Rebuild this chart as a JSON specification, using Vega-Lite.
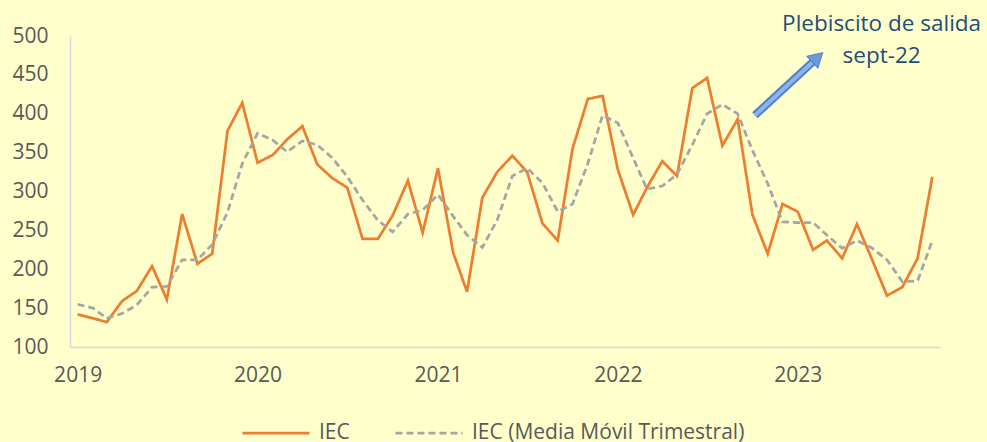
{
  "$schema": "https://vega.github.io/schema/vega-lite/v6.json",
  "width": 870,
  "height": 311,
  "autosize": {"type": "none"},
  "padding": {"left": 70, "top": 36, "right": 47, "bottom": 95},
  "background": "#FFFFCC",
  "config": {"view": {"stroke": null}, "font": "Open Sans", "axis": {"labelOverlap": false}, "axisY": {"labelOverlap": false}},
  "datasets": {
    "serie": [
      {"fecha": "2019-01-01", "IEC": 142, "IEC (Media Móvil Trimestral)": 155},
      {"fecha": "2019-02-01", "IEC": 137, "IEC (Media Móvil Trimestral)": 150},
      {"fecha": "2019-03-01", "IEC": 132, "IEC (Media Móvil Trimestral)": 137},
      {"fecha": "2019-04-01", "IEC": 159, "IEC (Media Móvil Trimestral)": 143},
      {"fecha": "2019-05-01", "IEC": 172, "IEC (Media Móvil Trimestral)": 154},
      {"fecha": "2019-06-01", "IEC": 204, "IEC (Media Móvil Trimestral)": 177},
      {"fecha": "2019-07-01", "IEC": 161, "IEC (Media Móvil Trimestral)": 178},
      {"fecha": "2019-08-01", "IEC": 271, "IEC (Media Móvil Trimestral)": 212},
      {"fecha": "2019-09-01", "IEC": 207, "IEC (Media Móvil Trimestral)": 212},
      {"fecha": "2019-10-01", "IEC": 220, "IEC (Media Móvil Trimestral)": 232},
      {"fecha": "2019-11-01", "IEC": 378, "IEC (Media Móvil Trimestral)": 273},
      {"fecha": "2019-12-01", "IEC": 414, "IEC (Media Móvil Trimestral)": 336},
      {"fecha": "2020-01-01", "IEC": 337, "IEC (Media Móvil Trimestral)": 375},
      {"fecha": "2020-02-01", "IEC": 347, "IEC (Media Móvil Trimestral)": 366},
      {"fecha": "2020-03-01", "IEC": 367, "IEC (Media Móvil Trimestral)": 351},
      {"fecha": "2020-04-01", "IEC": 384, "IEC (Media Móvil Trimestral)": 365},
      {"fecha": "2020-05-01", "IEC": 335, "IEC (Media Móvil Trimestral)": 360},
      {"fecha": "2020-06-01", "IEC": 317, "IEC (Media Móvil Trimestral)": 343},
      {"fecha": "2020-07-01", "IEC": 305, "IEC (Media Móvil Trimestral)": 319},
      {"fecha": "2020-08-01", "IEC": 239, "IEC (Media Móvil Trimestral)": 289},
      {"fecha": "2020-09-01", "IEC": 239, "IEC (Media Móvil Trimestral)": 263},
      {"fecha": "2020-10-01", "IEC": 269, "IEC (Media Móvil Trimestral)": 248},
      {"fecha": "2020-11-01", "IEC": 314, "IEC (Media Móvil Trimestral)": 271},
      {"fecha": "2020-12-01", "IEC": 247, "IEC (Media Móvil Trimestral)": 276},
      {"fecha": "2021-01-01", "IEC": 330, "IEC (Media Móvil Trimestral)": 296},
      {"fecha": "2021-02-01", "IEC": 221, "IEC (Media Móvil Trimestral)": 268},
      {"fecha": "2021-03-01", "IEC": 171, "IEC (Media Móvil Trimestral)": 244},
      {"fecha": "2021-04-01", "IEC": 292, "IEC (Media Móvil Trimestral)": 228},
      {"fecha": "2021-05-01", "IEC": 325, "IEC (Media Móvil Trimestral)": 263},
      {"fecha": "2021-06-01", "IEC": 346, "IEC (Media Móvil Trimestral)": 320},
      {"fecha": "2021-07-01", "IEC": 325, "IEC (Media Móvil Trimestral)": 330},
      {"fecha": "2021-08-01", "IEC": 259, "IEC (Media Móvil Trimestral)": 311},
      {"fecha": "2021-09-01", "IEC": 237, "IEC (Media Móvil Trimestral)": 274},
      {"fecha": "2021-10-01", "IEC": 355, "IEC (Media Móvil Trimestral)": 284},
      {"fecha": "2021-11-01", "IEC": 419, "IEC (Media Móvil Trimestral)": 336},
      {"fecha": "2021-12-01", "IEC": 423, "IEC (Media Móvil Trimestral)": 398},
      {"fecha": "2022-01-01", "IEC": 328, "IEC (Media Móvil Trimestral)": 388},
      {"fecha": "2022-02-01", "IEC": 270, "IEC (Media Móvil Trimestral)": 343},
      {"fecha": "2022-03-01", "IEC": 305, "IEC (Media Móvil Trimestral)": 303},
      {"fecha": "2022-04-01", "IEC": 339, "IEC (Media Móvil Trimestral)": 307},
      {"fecha": "2022-05-01", "IEC": 320, "IEC (Media Móvil Trimestral)": 322},
      {"fecha": "2022-06-01", "IEC": 433, "IEC (Media Móvil Trimestral)": 360},
      {"fecha": "2022-07-01", "IEC": 446, "IEC (Media Móvil Trimestral)": 400},
      {"fecha": "2022-08-01", "IEC": 359, "IEC (Media Móvil Trimestral)": 412},
      {"fecha": "2022-09-01", "IEC": 393, "IEC (Media Móvil Trimestral)": 400},
      {"fecha": "2022-10-01", "IEC": 270, "IEC (Media Móvil Trimestral)": 353},
      {"fecha": "2022-11-01", "IEC": 220, "IEC (Media Móvil Trimestral)": 310},
      {"fecha": "2022-12-01", "IEC": 284, "IEC (Media Móvil Trimestral)": 261},
      {"fecha": "2023-01-01", "IEC": 274, "IEC (Media Móvil Trimestral)": 260},
      {"fecha": "2023-02-01", "IEC": 225, "IEC (Media Móvil Trimestral)": 260},
      {"fecha": "2023-03-01", "IEC": 237, "IEC (Media Móvil Trimestral)": 244},
      {"fecha": "2023-04-01", "IEC": 214, "IEC (Media Móvil Trimestral)": 227},
      {"fecha": "2023-05-01", "IEC": 258, "IEC (Media Móvil Trimestral)": 237},
      {"fecha": "2023-06-01", "IEC": 212, "IEC (Media Móvil Trimestral)": 227},
      {"fecha": "2023-07-01", "IEC": 166, "IEC (Media Móvil Trimestral)": 212},
      {"fecha": "2023-08-01", "IEC": 177, "IEC (Media Móvil Trimestral)": 184},
      {"fecha": "2023-09-01", "IEC": 214, "IEC (Media Móvil Trimestral)": 185},
      {"fecha": "2023-10-01", "IEC": 319, "IEC (Media Móvil Trimestral)": 237}
    ],
    "flecha": [
      {"fecha": "2022-10-06", "valor": 398, "fecha2": "2023-02-01", "valor2": 467}
    ],
    "punta": [
      {"fecha": "2023-02-10", "valor": 472.5}
    ],
    "nota": [
      {"fecha": "2023-06-20", "valor": 507, "texto": "Plebiscito de salida"},
      {"fecha": "2023-06-20", "valor": 465, "texto": "sept-22"}
    ]
  },
  "layer": [
    {
      "data": {"name": "serie"},
      "transform": [{"fold": ["IEC", "IEC (Media Móvil Trimestral)"], "as": ["serie", "valor"]}],
      "mark": {"type": "line", "strokeWidth": 2.75},
      "encoding": {
        "x": {
          "field": "fecha", "type": "temporal", "title": null,
          "scale": {"type": "utc", "domain": [
            {"year": 2018, "month": 12, "date": 16, "hours": 12, "utc": true},
            {"year": 2023, "month": 10, "date": 16, "hours": 12, "utc": true}
          ]},
          "axis": {
            "values": [
              {"year": 2019, "month": 1, "date": 1, "utc": true},
              {"year": 2020, "month": 1, "date": 1, "utc": true},
              {"year": 2021, "month": 1, "date": 1, "utc": true},
              {"year": 2022, "month": 1, "date": 1, "utc": true},
              {"year": 2023, "month": 1, "date": 1, "utc": true}
            ],
            "format": "%Y", "grid": false, "ticks": false, "domain": true,
            "domainColor": "#D6D8E6", "domainWidth": 1.5, "labelOverlap": false,
            "labelFontSize": 21, "labelColor": "#595959", "labelPadding": 17,
            "labelFont": "Open Sans"
          }
        },
        "y": {
          "field": "valor", "type": "quantitative", "title": null,
          "scale": {"domain": [100, 500], "nice": false, "zero": false},
          "axis": {
            "tickCount": 8, "tickMinStep": 50,
            "grid": false, "ticks": false, "domain": true,
            "domainColor": "#D6D8E6", "domainWidth": 1.5, "labelOverlap": false,
            "labelFontSize": 21, "labelColor": "#595959", "labelPadding": 22,
            "labelFont": "Open Sans", "labelBound": false
          }
        },
        "color": {
          "field": "serie", "type": "nominal", "title": null,
          "scale": {"domain": ["IEC", "IEC (Media Móvil Trimestral)"], "range": ["#ED7D31", "#A5A5A5"]},
          "legend": {"title": null, "orient": "none", "legendX": 171, "legendY": 362, "direction": "horizontal",
            "symbolType": "stroke", "symbolSize": 4500, "symbolStrokeWidth": 2.75,
            "labelFontSize": 21, "labelColor": "#595959", "labelOffset": 8, "columnPadding": 39,
            "padding": 0, "labelFont": "Open Sans", "labelLimit": 400}
        },
        "strokeDash": {
          "field": "serie", "type": "nominal", "title": null,
          "scale": {"domain": ["IEC", "IEC (Media Móvil Trimestral)"], "range": [[1, 0], [7, 4]]},
          "legend": {"title": null, "orient": "none", "legendX": 171, "legendY": 362, "direction": "horizontal",
            "symbolType": "stroke", "symbolSize": 4500, "symbolStrokeWidth": 2.75,
            "labelFontSize": 21, "labelColor": "#595959", "labelOffset": 8, "columnPadding": 39,
            "padding": 0, "labelFont": "Open Sans", "labelLimit": 400}
        }
      }
    },
    {
      "data": {"name": "flecha"},
      "mark": {"type": "rule", "strokeWidth": 8, "color": "#4F7FC4", "strokeCap": "butt"},
      "encoding": {
        "x": {"field": "fecha", "type": "temporal", "title": null},
        "y": {"field": "valor", "type": "quantitative", "title": null},
        "x2": {"field": "fecha2"},
        "y2": {"field": "valor2"}
      }
    },
    {
      "data": {"name": "flecha"},
      "mark": {"type": "rule", "strokeWidth": 4, "color": "#8DB3EE", "strokeCap": "butt"},
      "encoding": {
        "x": {"field": "fecha", "type": "temporal", "title": null},
        "y": {"field": "valor", "type": "quantitative", "title": null},
        "x2": {"field": "fecha2"},
        "y2": {"field": "valor2"}
      }
    },
    {
      "data": {"name": "punta"},
      "mark": {"type": "point", "shape": "triangle-up", "filled": true, "size": 260, "angle": 47, "color": "#6B98DE", "stroke": "#4F7FC4", "strokeWidth": 1, "opacity": 1},
      "encoding": {
        "x": {"field": "fecha", "type": "temporal", "title": null},
        "y": {"field": "valor", "type": "quantitative", "title": null}
      }
    },
    {
      "data": {"name": "nota"},
      "mark": {"type": "text", "align": "center", "baseline": "alphabetic", "fontSize": 22.5, "color": "#1F4E79", "font": "Open Sans"},
      "encoding": {
        "x": {"field": "fecha", "type": "temporal", "title": null},
        "y": {"field": "valor", "type": "quantitative", "title": null},
        "text": {"field": "texto"}
      }
    }
  ]
}
